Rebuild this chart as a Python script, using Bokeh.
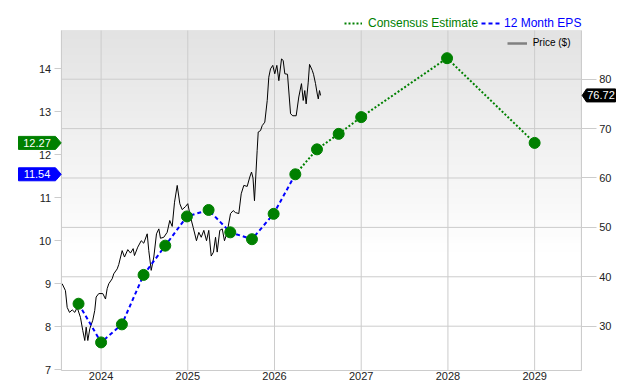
import numpy as np
from bokeh.plotting import figure
from bokeh.models import (Range1d, LinearAxis, FixedTicker, Legend, LegendItem,
                          Label, PolyAnnotation, BoxAnnotation)
from bokeh.embed import file_html
from bokeh.resources import INLINE

# ---------------- data ----------------
price_t = [2023.551, 2023.589, 2023.609, 2023.636, 2023.667, 2023.697, 2023.724, 2023.762,
           2023.789, 2023.812, 2023.828, 2023.847, 2023.870, 2023.904, 2023.927, 2023.943,
           2023.973, 2024.020, 2024.051, 2024.070, 2024.089, 2024.128, 2024.146, 2024.186,
           2024.204, 2024.243, 2024.270, 2024.308, 2024.339, 2024.370, 2024.385, 2024.423,
           2024.463, 2024.492, 2024.532, 2024.550, 2024.578, 2024.608, 2024.639, 2024.666,
           2024.685, 2024.723, 2024.762, 2024.792, 2024.820, 2024.847, 2024.878, 2024.908,
           2024.935, 2024.973, 2025.000, 2025.031, 2025.062, 2025.100, 2025.127, 2025.155,
           2025.185, 2025.216, 2025.242, 2025.270, 2025.296, 2025.320, 2025.339, 2025.369,
           2025.397, 2025.423, 2025.454, 2025.493, 2025.524, 2025.550, 2025.588, 2025.616,
           2025.646, 2025.685, 2025.715, 2025.735, 2025.752, 2025.769, 2025.800, 2025.812,
           2025.839, 2025.858, 2025.888, 2025.916, 2025.934, 2025.954, 2025.980, 2026.003,
           2026.027, 2026.050, 2026.081, 2026.100, 2026.119, 2026.150, 2026.185, 2026.211,
           2026.250, 2026.280, 2026.311, 2026.331, 2026.349, 2026.365, 2026.389, 2026.404,
           2026.435, 2026.450, 2026.473, 2026.493, 2026.505, 2026.519, 2026.531]
price_v = [38.6, 37.2, 33.8, 32.8, 33.3, 32.8, 33.8, 31.8,
           29.1, 27.1, 29.8, 27.1, 29.5, 31.2, 33.2, 35.9,
           36.6, 36.6, 35.5, 37.6, 38.6, 39.6, 40.6, 41.6,
           42.5, 45.3, 44.0, 45.5, 44.8, 45.7, 44.3, 46.0,
           47.3, 46.8, 48.7, 45.3, 41.3, 44.0, 48.7, 49.7,
           47.8, 48.0, 49.0, 51.4, 50.2, 55.1, 58.5, 54.8,
           53.6, 54.2, 54.8, 52.1, 50.0, 47.3, 49.0, 48.0,
           49.4, 47.3, 49.4, 44.2, 45.0, 48.0, 45.0, 49.4,
           49.7, 47.3, 49.0, 52.8, 53.4, 53.0, 52.8, 56.8,
           58.5, 58.3, 60.2, 61.2, 60.0, 55.4, 65.6, 69.3,
           69.6, 70.6, 71.3, 75.7, 80.4, 82.1, 82.8, 81.1,
           82.8, 79.7, 84.1, 83.8, 81.1, 81.0, 73.0, 72.6,
           72.6, 76.4, 79.1, 75.7, 77.7, 75.0, 79.4, 83.0,
           81.8, 81.0, 79.1, 77.0, 76.0, 77.7, 76.72]

eps_t = [2023.74, 2024.00, 2024.24, 2024.49, 2024.74, 2024.99, 2025.24, 2025.49,
         2025.74, 2025.99, 2026.24]
eps_v = [8.53, 7.63, 8.05, 9.20, 9.88, 10.56, 10.71, 10.19, 10.03, 10.62, 11.54]

cons_t = [2026.24, 2026.49, 2026.74, 2027.00, 2027.99, 2029.00]
cons_v = [11.54, 12.12, 12.48, 12.87, 14.24, 12.27]

year_ticks = [2024, 2025, 2026, 2027, 2028, 2029]
eps_ticks = [7, 8, 9, 10, 11, 12, 13, 14]
price_ticks = [30, 40, 50, 60, 70, 80]

last_price = 76.72
eps_tag = 11.54
cons_tag = 12.27

# ---------------- layout ----------------
FONT = "Liberation Sans"
GRID = "#cccccc"
W, H = 640, 380
L, R, T, B = 60.7, 580.7, 30.0, 370.0          # plot box in canvas pixels
X0, X1 = 2023.54, 2029.537                      # plot box in data units
Y0, Y1 = 6.977, 14.884
P0, P1 = 21.03, 89.86
sx = (X1 - X0) / (R - L)
sy = (Y1 - Y0) / (B - T)
sp = (P1 - P0) / (B - T)

def xd(px):   # canvas pixel -> x data
    return X0 + (px - L) * sx

p = figure(width=W, height=H, output_backend="svg", toolbar_location=None,
           x_range=Range1d(X0 - L * sx, X1 + (W - R) * sx),
           y_range=Range1d(Y0 - (H - B) * sy, Y1 + T * sy),
           x_axis_location=None, y_axis_location=None, min_border=0)
p.extra_y_ranges = {"price": Range1d(P0 - (H - B) * sp, P1 + T * sp)}
p.background_fill_color = "white"
p.border_fill_color = "white"
p.outline_line_color = None
p.grid.visible = False

# gradient background of the plot box
n = 200
frac = np.linspace(0, 1, n)
g = (255 - 28 * np.clip((frac - 0.35) / 0.65, 0, 1)).astype(np.uint8)
img = np.empty((n, 1), dtype=np.uint32)
view = img.view(dtype=np.uint8).reshape((n, 1, 4))
view[:, 0, 0] = g
view[:, 0, 1] = g
view[:, 0, 2] = g
view[:, 0, 3] = 255
p.image_rgba(image=[img], x=X0, y=Y0, dw=X1 - X0, dh=Y1 - Y0, level="image")

# grid lines (from tick values) and box outline
p.segment(x0=year_ticks, y0=Y0, x1=year_ticks, y1=Y1, line_color=GRID, line_width=1,
          level="underlay")
p.segment(x0=X0, y0=price_ticks, x1=X1, y1=price_ticks, y_range_name="price",
          line_color=GRID, line_width=1, level="underlay")
p.add_layout(BoxAnnotation(left=X0, right=X1, bottom=Y0, top=Y1, fill_alpha=0,
                           line_color=GRID, line_width=1, level="underlay"))

# axes
def style(ax, tick_out, standoff):
    ax.axis_line_color = GRID
    ax.major_tick_line_color = GRID
    ax.major_tick_out = tick_out
    ax.major_tick_in = 0
    ax.minor_tick_line_color = None
    ax.major_label_standoff = standoff
    ax.major_label_text_font = FONT
    ax.major_label_text_font_size = "11px"
    ax.major_label_text_color = "#222222"

xa = LinearAxis(ticker=FixedTicker(ticks=year_ticks), fixed_location=Y0, bounds=(X0, X1))
style(xa, 0, 1)
xa.major_tick_line_color = None
p.add_layout(xa, "below")

ya = LinearAxis(ticker=FixedTicker(ticks=eps_ticks), fixed_location=X0, bounds=(Y0, Y1))
style(ya, 7, 3)
p.add_layout(ya, "left")

ra = LinearAxis(y_range_name="price", ticker=FixedTicker(ticks=price_ticks),
                fixed_location=X1, bounds=(P0, P1))
style(ra, 15, 3)
p.add_layout(ra, "right")

# series
p.line(price_t, price_v, y_range_name="price", line_color="black", line_width=1)
eps_line = p.line(eps_t, eps_v, line_color="#0000ff", line_width=2, line_dash="4 3")
cons_line = p.line(cons_t, cons_v, line_color="#008000", line_width=2, line_dash="2 2")
p.scatter(eps_t + cons_t[1:], eps_v + cons_v[1:], size=11,
          fill_color="#008000", line_color="#008000")
price_key = p.line([np.nan], [np.nan], line_color="#808080", line_width=2.5)

# legends (location = bottom-left corner, pixels from canvas bottom-left)
def mk_legend(label, rend, color, size, loc, gw, standoff):
    lg = Legend(items=[LegendItem(label=label, renderers=[rend])], location=loc,
                orientation="horizontal", background_fill_alpha=0, border_line_color=None,
                padding=0, margin=0, spacing=0, glyph_width=gw, glyph_height=12,
                label_height=12, label_standoff=standoff, label_text_font=FONT,
                label_text_font_size=size, label_text_color=color)
    p.add_layout(lg)

mk_legend("Consensus Estimate", cons_line, "#008000", "12px", (344, 350), 18, 6)
mk_legend("12 Month EPS", eps_line, "#0000ff", "12px", (481, 350), 20, 3)
mk_legend("Price ($)", price_key, "black", "10px", (506.7, 331.5), 20, 6)

# value tags
def tag(yv, color, side):
    hh = 6.5 * sy
    if side == "left":
        tip, inner, outer, cx = xd(60.7), xd(55), xd(18), xd(36.5)
    else:
        tip, inner, outer, cx = xd(581.7), xd(586), xd(615), xd(600.5)
    xs = [tip, inner, outer, outer, inner]
    ys = [yv, yv + hh, yv + hh, yv - hh, yv - hh]
    p.add_layout(PolyAnnotation(xs=xs, ys=ys, fill_color=color, fill_alpha=1,
                                line_color=color, line_alpha=1))
    p.add_layout(Label(x=cx, y=yv, text=f"{val_text(yv, side)}", text_align="center",
                       text_baseline="middle", text_color="white", text_font=FONT,
                       text_font_size="11px"))

_texts = {}
def val_text(yv, side):
    return _texts[(round(yv, 6), side)]

for val, col in [(cons_tag, "#008000"), (eps_tag, "#0000ff")]:
    _texts[(round(val, 6), "left")] = f"{val:.2f}"
    tag(val, col, "left")

yp = Y0 + (last_price - P0) / (P1 - P0) * (Y1 - Y0)
_texts[(round(yp, 6), "right")] = f"{last_price:.2f}"
tag(yp, "black", "right")

open("out.html", "w").write(file_html(p, INLINE))
